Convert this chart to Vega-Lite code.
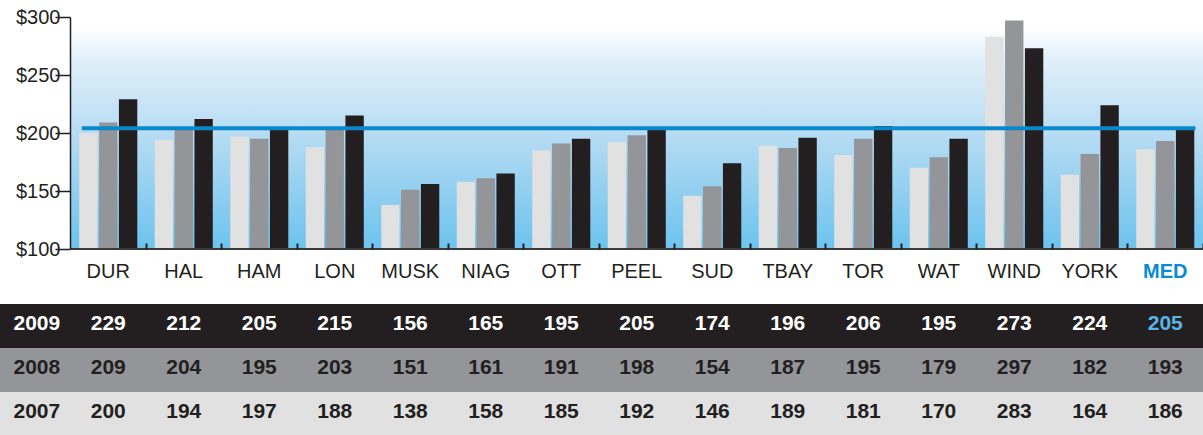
{
  "$schema": "https://vega.github.io/schema/vega-lite/v6.json",
  "background": "white",
  "padding": {"top": 7, "left": 0, "right": 0, "bottom": 0},
  "spacing": 23,
  "config": {"view": {"stroke": null}, "font": "Liberation Sans"},
  "datasets": {
    "prices": [
      {"city": "DUR", "year": 2007, "value": 200}, {"city": "DUR", "year": 2008, "value": 209}, {"city": "DUR", "year": 2009, "value": 229},
      {"city": "HAL", "year": 2007, "value": 194}, {"city": "HAL", "year": 2008, "value": 204}, {"city": "HAL", "year": 2009, "value": 212},
      {"city": "HAM", "year": 2007, "value": 197}, {"city": "HAM", "year": 2008, "value": 195}, {"city": "HAM", "year": 2009, "value": 205},
      {"city": "LON", "year": 2007, "value": 188}, {"city": "LON", "year": 2008, "value": 203}, {"city": "LON", "year": 2009, "value": 215},
      {"city": "MUSK", "year": 2007, "value": 138}, {"city": "MUSK", "year": 2008, "value": 151}, {"city": "MUSK", "year": 2009, "value": 156},
      {"city": "NIAG", "year": 2007, "value": 158}, {"city": "NIAG", "year": 2008, "value": 161}, {"city": "NIAG", "year": 2009, "value": 165},
      {"city": "OTT", "year": 2007, "value": 185}, {"city": "OTT", "year": 2008, "value": 191}, {"city": "OTT", "year": 2009, "value": 195},
      {"city": "PEEL", "year": 2007, "value": 192}, {"city": "PEEL", "year": 2008, "value": 198}, {"city": "PEEL", "year": 2009, "value": 205},
      {"city": "SUD", "year": 2007, "value": 146}, {"city": "SUD", "year": 2008, "value": 154}, {"city": "SUD", "year": 2009, "value": 174},
      {"city": "TBAY", "year": 2007, "value": 189}, {"city": "TBAY", "year": 2008, "value": 187}, {"city": "TBAY", "year": 2009, "value": 196},
      {"city": "TOR", "year": 2007, "value": 181}, {"city": "TOR", "year": 2008, "value": 195}, {"city": "TOR", "year": 2009, "value": 206},
      {"city": "WAT", "year": 2007, "value": 170}, {"city": "WAT", "year": 2008, "value": 179}, {"city": "WAT", "year": 2009, "value": 195},
      {"city": "WIND", "year": 2007, "value": 283}, {"city": "WIND", "year": 2008, "value": 297}, {"city": "WIND", "year": 2009, "value": 273},
      {"city": "YORK", "year": 2007, "value": 164}, {"city": "YORK", "year": 2008, "value": 182}, {"city": "YORK", "year": 2009, "value": 224},
      {"city": "MED", "year": 2007, "value": 186}, {"city": "MED", "year": 2008, "value": 193}, {"city": "MED", "year": 2009, "value": 205}
    ],
    "median": [{"from": "DUR", "to": "MED", "value": 204}],
    "years": [{"year": 2009}, {"year": 2008}, {"year": 2007}]
  },
  "vconcat": [
    {
      "width": 1203,
      "height": 232,
      "layer": [
        {
          "data": {"name": "prices"},
          "transform": [{"filter": "datum.year == 2007"}],
          "mark": {
            "type": "rect",
            "color": {"gradient": "linear", "x1": 0, "y1": 0, "x2": 0, "y2": 1,
              "stops": [{"offset": 0, "color": "#ffffff"}, {"offset": 0.12, "color": "#e3f1fa"}, {"offset": 0.5, "color": "#b4dbf3"}, {"offset": 1, "color": "#6cc3ee"}]},
            "stroke": {"gradient": "linear", "x1": 0, "y1": 0, "x2": 0, "y2": 1,
              "stops": [{"offset": 0, "color": "#ffffff"}, {"offset": 0.12, "color": "#e3f1fa"}, {"offset": 0.5, "color": "#b4dbf3"}, {"offset": 1, "color": "#6cc3ee"}]},
            "strokeWidth": 1
          },
          "encoding": {
            "x": {"field": "city", "type": "nominal", "sort": null,
              "scale": {"type": "band", "domain": ["DUR","HAL","HAM","LON","MUSK","NIAG","OTT","PEEL","SUD","TBAY","TOR","WAT","WIND","YORK","MED"], "paddingInner": 0, "paddingOuter": 0.467, "align": 1},
              "axis": {
                "title": null, "domain": false, "bandPosition": 1, "tickSize": -6, "tickWidth": 2, "tickColor": "#231f20",
                "labelAngle": 0, "labelPadding": 18, "labelFontSize": 20, "labelFont": "Liberation Sans",
                "labelColor": {"condition": {"test": "datum.value === 'MED'", "value": "#0a8ad2"}, "value": "#231f20"},
                "labelFontWeight": {"condition": {"test": "datum.value === 'MED'", "value": "bold"}, "value": "normal"},
                "zindex": 1
              }
            },
            "y": {"datum": 290, "type": "quantitative",
              "scale": {"domain": [100, 300], "zero": false, "nice": false},
              "axis": {
                "title": null, "values": [100, 150, 200, 250, 300], "labelExpr": "'$' + datum.value",
                "offset": -70, "grid": false, "tickSize": 15, "tickWidth": 1.5, "tickColor": "#231f20",
                "domainColor": "#231f20", "domainWidth": 1.5, "labelPadding": -5,
                "labelFontSize": 20, "labelFont": "Liberation Sans", "labelColor": "#231f20", "zindex": 1
              }
            },
            "y2": {"datum": 100}
          }
        },
        {
          "data": {"name": "prices"},
          "mark": {"type": "bar"},
          "encoding": {
            "x": {"field": "city", "type": "nominal", "sort": null},
            "xOffset": {"field": "year", "type": "ordinal", "scale": {"domain": [2007, 2008, 2009], "paddingInner": 0.075, "paddingOuter": 0.44}},
            "y": {"field": "value", "type": "quantitative"},
            "y2": {"datum": 100},
            "color": {"field": "year", "type": "ordinal", "scale": {"domain": [2007, 2008, 2009], "range": ["#e1e1e2", "#939598", "#231f20"]}, "legend": null}
          }
        },
        {
          "data": {"name": "median"},
          "mark": {"type": "rule", "color": "#0a88cc", "strokeWidth": 4},
          "encoding": {
            "x": {"field": "from", "type": "nominal", "bandPosition": 0.15},
            "x2": {"field": "to", "bandPosition": 0.9},
            "y": {"field": "value", "type": "quantitative"}
          }
        },
        {
          "data": {"name": "median"},
          "mark": {"type": "rule", "color": "#3a3a3a", "strokeWidth": 2},
          "encoding": {
            "x": {"field": "from", "type": "nominal", "bandPosition": 0},
            "x2": {"field": "to", "bandPosition": 1},
            "y": {"datum": 100, "type": "quantitative"}
          }
        }
      ]
    },
    {
      "width": 1203,
      "height": 132,
      "layer": [
        {
          "data": {"name": "years"},
          "mark": {"type": "rect"},
          "encoding": {
            "y": {"field": "year", "type": "ordinal",
              "scale": {"domain": [2009, 2008, 2007], "paddingInner": 0, "paddingOuter": 0},
              "axis": {
                "title": null, "domain": false, "ticks": false, "tickSize": 0, "labelAlign": "left", "labelPadding": -13,
                "labelOffset": -2,
                "labelFontSize": 21, "labelFontWeight": "bold", "labelFont": "Liberation Sans",
                "labelColor": {"condition": {"test": "datum.value == 2009", "value": "#ffffff"}, "value": "#231f20"},
                "zindex": 1
              }
            },
            "color": {"field": "year", "type": "ordinal", "scale": {"domain": [2007, 2008, 2009], "range": ["#e1e1e2", "#939598", "#231f20"]}, "legend": null}
          }
        },
        {
          "data": {"name": "prices"},
          "mark": {"type": "text", "fontSize": 21, "fontWeight": "bold", "font": "Liberation Sans", "baseline": "middle", "dy": -2},
          "encoding": {
            "x": {"field": "city", "type": "nominal", "sort": null,
              "scale": {"type": "band", "domain": ["DUR","HAL","HAM","LON","MUSK","NIAG","OTT","PEEL","SUD","TBAY","TOR","WAT","WIND","YORK","MED"], "paddingInner": 0, "paddingOuter": 0.467, "align": 1},
              "axis": null},
            "y": {"field": "year", "type": "ordinal"},
            "text": {"field": "value", "type": "quantitative"},
            "color": {"condition": [
              {"test": "datum.city === 'MED' && datum.year == 2009", "value": "#5ab4e6"},
              {"test": "datum.year == 2009", "value": "#ffffff"}
            ], "value": "#231f20"}
          }
        }
      ]
    }
  ]
}
